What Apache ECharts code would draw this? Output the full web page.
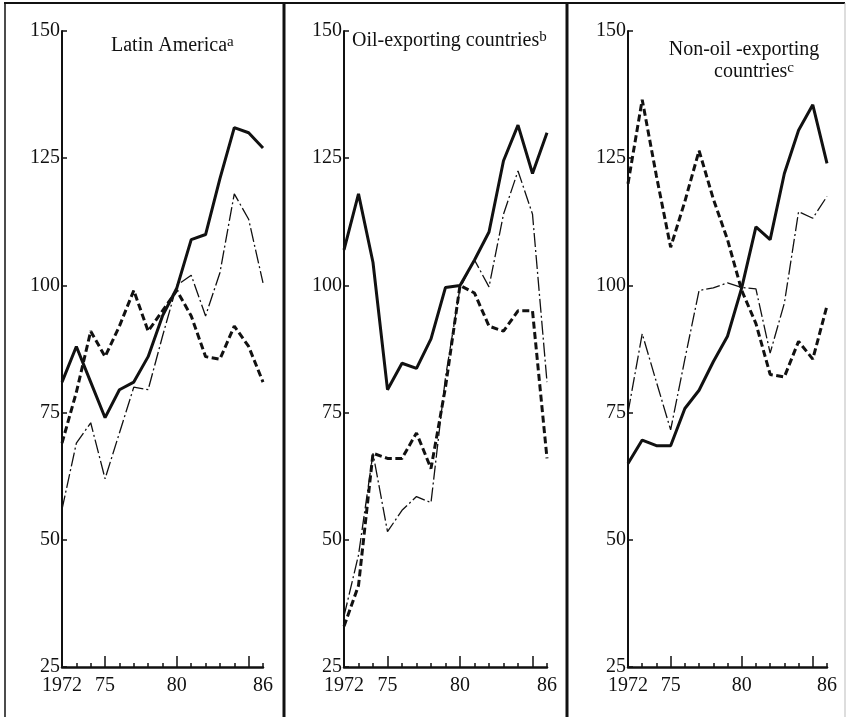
<!DOCTYPE html>
<html>
<head>
<meta charset="utf-8">
<script src="https://cdn.jsdelivr.net/npm/echarts@6/dist/echarts.min.js"></script>
<style>
  html, body { margin: 0; padding: 0; background: #fff; }
  #chart { width: 847px; height: 717px; }
</style>
</head>
<body>
<div id="chart"></div>
<script>
// Index 1980 = 100, three regional panels, 1972-1986
const years = [1972, 1973, 1974, 1975, 1976, 1977, 1978, 1979, 1980, 1981, 1982, 1983, 1984, 1985, 1986];
const yTicks = [25, 50, 75, 100, 125, 150];
const xLabelYears = [1972, 1975, 1980, 1986];
const xLabelText = ['1972', '75', '80', '86'];
const majorTickYears = [1975, 1980, 1985];

// Latin America
const latinSolid = [81, 88, 81, 74, 79.5, 81, 86, 94, 99.5, 109, 110, 121, 131, 130, 127];
const latinDashDot = [56, 69, 73, 62, 71, 80, 79.5, 90, 100, 102, 94, 102.5, 118, 113, 100.5];
const latinDashed = [69, 79, 91, 86, 92, 99, 91, 95, 99, 94, 86, 85.5, 92, 88, 81];

// Oil-exporting countries
const oilSolid = [107, 118, 104.5, 79.5, 84.7, 83.7, 89.5, 99.6, 100, 105, 110.5, 124.5, 131.5, 122, 130];
const oilDashDot = [35, 47, 67, 51.6, 55.8, 58.5, 57.3, 82, 99.5, 105, 99.7, 114, 122.5, 114, 81];
const oilDashed = [33, 41, 67, 66, 66, 71, 64, 80, 100, 98.5, 92, 91, 95, 95, 66];

// Non-oil-exporting countries
const nonOilSolid = [65, 69.6, 68.5, 68.5, 75.8, 79.4, 85, 90, 99.5, 111.5, 109, 122, 130.5, 135.5, 124];
const nonOilDashDot = [75, 90.5, 81, 71.6, 85.5, 99, 99.5, 100.5, 99.6, 99.3, 86.7, 96.5, 114.5, 113.2, 117.5];
const nonOilDashed = [120, 136.5, 121.5, 107.5, 116.5, 126.5, 117, 109, 99, 92.5, 82.5, 82, 89, 85.5, 96];

const INK = '#111';
const SERIF = 'Liberation Serif';

const PANELS = [
  { left: 62, width: 201, solid: latinSolid, dashDot: latinDashDot, dashed: latinDashed },
  { left: 344, width: 203, solid: oilSolid, dashDot: oilDashDot, dashed: oilDashed },
  { left: 628, width: 199, solid: nonOilSolid, dashDot: nonOilDashDot, dashed: nonOilDashed },
];

const toPoints = (vals) => years.map((yr, i) => [yr, vals[i]]);

const grid = PANELS.map((p) => ({ left: p.left, width: p.width, top: 31, height: 636 }));

const xAxis = [];
const yAxis = [];
const series = [];

PANELS.forEach((p, i) => {
  xAxis.push({
    type: 'value',
    gridIndex: i,
    position: 'bottom',
    min: years[0],
    max: years[years.length - 1],
    axisLine: { onZero: false, lineStyle: { color: INK, width: 2.5 } },
    axisTick: { inside: true, length: 4, customValues: years, lineStyle: { color: INK, width: 1.5 } },
    axisLabel: {
      customValues: xLabelYears,
      formatter: (v) => xLabelText[xLabelYears.indexOf(v)] ?? '',
      color: INK,
      fontFamily: SERIF,
      fontSize: 20,
      margin: 9,
    },
    splitLine: { show: false },
  });
  // longer ticks at 75, 80, 85
  xAxis.push({
    type: 'value',
    gridIndex: i,
    position: 'bottom',
    min: years[0],
    max: years[years.length - 1],
    axisLine: { show: false, onZero: false },
    axisTick: { inside: true, length: 11, customValues: majorTickYears, lineStyle: { color: INK, width: 1.5 } },
    axisLabel: { show: false },
    splitLine: { show: false },
  });
  yAxis.push({
    type: 'value',
    gridIndex: i,
    min: 25,
    max: 150,
    interval: 25,
    axisLine: { show: true, onZero: false, lineStyle: { color: INK, width: 2 } },
    axisTick: { show: true, inside: true, length: 5, customValues: yTicks, lineStyle: { color: INK, width: 1.5 } },
    axisLabel: { color: INK, fontFamily: SERIF, fontSize: 20, margin: 2, padding: [0, 0, 3, 0] },
    splitLine: { show: false },
  });

  const xIdx = i * 2;
  series.push(
    {
      type: 'line', xAxisIndex: xIdx, yAxisIndex: i, data: toPoints(p.dashed),
      symbol: 'none', z: 3,
      lineStyle: { color: INK, width: 3, type: [7, 3.5] },
    },
    {
      type: 'line', xAxisIndex: xIdx, yAxisIndex: i, data: toPoints(p.dashDot),
      symbol: 'none', z: 4,
      lineStyle: { color: INK, width: 1.3, type: [14, 3, 2, 3] },
    },
    {
      type: 'line', xAxisIndex: xIdx, yAxisIndex: i, data: toPoints(p.solid),
      symbol: 'none', z: 5,
      lineStyle: { color: INK, width: 3 },
    }
  );
});

const titleFont = { fill: INK, fontFamily: SERIF, fontSize: 20 };
const supRich = { sup: { fontFamily: SERIF, fontSize: 15, verticalAlign: 'top', lineHeight: 17, fill: INK } };

const frameLine = (x1, y1, x2, y2, width, color) => ({
  type: 'line', silent: true,
  shape: { x1, y1, x2, y2 },
  style: { stroke: color || INK, lineWidth: width },
});

const option = {
  animation: false,
  backgroundColor: '#fff',
  grid,
  xAxis,
  yAxis,
  series,
  graphic: [
    frameLine(4, 3, 845, 3, 2),
    frameLine(5, 3, 5, 717, 1.5),
    frameLine(284, 3, 284, 717, 3),
    frameLine(567, 3, 567, 717, 3),
    frameLine(845, 3, 845, 717, 1, '#bbb'),
    {
      type: 'text', x: 111, y: 46,
      style: Object.assign({ text: 'Latin America{sup|a}', verticalAlign: 'middle', lineHeight: 22, rich: supRich }, titleFont),
    },
    {
      type: 'text', x: 352, y: 41,
      style: Object.assign({ text: 'Oil-exporting countries{sup|b}', verticalAlign: 'middle', lineHeight: 22, rich: supRich }, titleFont),
    },
    {
      type: 'text', x: 744, y: 50,
      style: Object.assign({ text: 'Non-oil -exporting', align: 'center', verticalAlign: 'middle' }, titleFont),
    },
    {
      type: 'text', x: 754, y: 72,
      style: Object.assign({ text: 'countries{sup|c}', align: 'center', verticalAlign: 'middle', lineHeight: 22, rich: supRich }, titleFont),
    },
  ],
};

const chart = echarts.init(document.getElementById('chart'), null, { renderer: 'canvas' });
chart.setOption(option);
</script>
</body>
</html>
